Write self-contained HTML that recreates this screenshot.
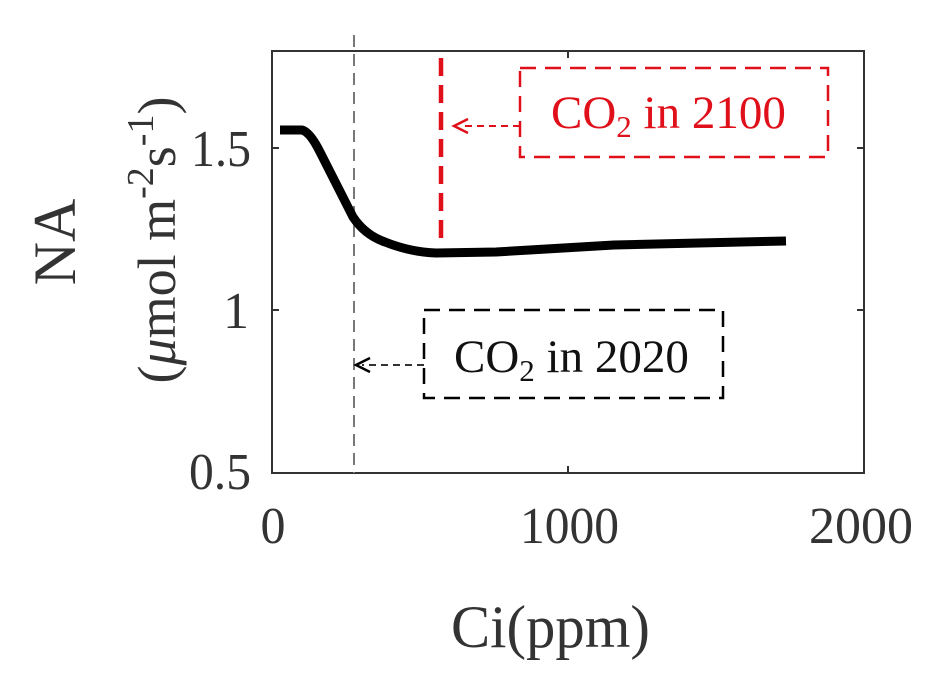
<!DOCTYPE html>
<html><head><style>body{margin:0;background:#fff}</style></head><body>
<svg width="943" height="684" viewBox="0 0 943 684" xmlns="http://www.w3.org/2000/svg" font-family="'Liberation Serif', serif">
<rect x="272" y="51" width="592" height="422" fill="none" stroke="#333" stroke-width="2"/>
<g stroke="#333" stroke-width="2">
<line x1="568" y1="473" x2="568" y2="466"/><line x1="568" y1="51" x2="568" y2="58"/>
<line x1="272" y1="148" x2="279" y2="148"/><line x1="864" y1="148" x2="857" y2="148"/>
<line x1="272" y1="310" x2="279" y2="310"/><line x1="864" y1="310" x2="857" y2="310"/>
</g>
<g font-size="52" fill="#333">
<text x="251" y="166" text-anchor="end" textLength="60" lengthAdjust="spacingAndGlyphs">1.5</text>
<text x="249" y="328" text-anchor="end">1</text>
<text x="251" y="489" text-anchor="end" textLength="62" lengthAdjust="spacingAndGlyphs">0.5</text>
<text x="273" y="543" text-anchor="middle" textLength="25" lengthAdjust="spacingAndGlyphs">0</text>
<text x="520" y="543" textLength="99" lengthAdjust="spacingAndGlyphs">1000</text>
<text x="809" y="543" textLength="104" lengthAdjust="spacingAndGlyphs">2000</text>
</g>
<text x="451" y="647" font-size="60" fill="#333" textLength="199" lengthAdjust="spacingAndGlyphs">Ci(ppm)</text>
<g transform="translate(75,242) rotate(-90)"><text x="0" y="0" font-size="60" text-anchor="middle" fill="#333">NA</text></g>
<g transform="translate(175,240) rotate(-90)"><text x="0" y="0" font-size="54" text-anchor="middle" fill="#333">(<tspan font-style="italic">μ</tspan>mol m<tspan dy="-22" font-size="38">-2</tspan><tspan dy="22">s</tspan><tspan dy="-22" font-size="38">-1</tspan><tspan dy="22">)</tspan></text></g>
<line x1="354" y1="35" x2="354" y2="473" stroke="#777" stroke-width="2" stroke-dasharray="12,7"/>
<line x1="441" y1="58" x2="441" y2="242" stroke="#e0101a" stroke-width="4.5" stroke-dasharray="18,9"/>
<path d="M280,130 L302,130 Q310,132 320,152 L353,217 Q365,235 385,242 Q410,252 436,253 L496,252 L614,245 L786,241" fill="none" stroke="#000" stroke-width="9" stroke-linejoin="round"/>
<rect x="520" y="68" width="308" height="89" fill="none" stroke="#e0101a" stroke-width="2.5" stroke-dasharray="16,9"/>
<text x="551" y="128" font-size="47" fill="#e0101a">CO<tspan font-size="31" dy="9">2</tspan><tspan dy="-9"> in 2100</tspan></text>
<path d="M520,126 L460,126" stroke="#e0101a" stroke-width="2" stroke-dasharray="7,5"/>
<path d="M468,119 L454,126 L468,133" fill="none" stroke="#e0101a" stroke-width="2.5"/>
<rect x="424" y="310" width="299" height="88" fill="none" stroke="#000" stroke-width="2.5" stroke-dasharray="16,9"/>
<text x="454" y="372" font-size="47" fill="#111">CO<tspan font-size="31" dy="9">2</tspan><tspan dy="-9"> in 2020</tspan></text>
<path d="M424,365 L362,365" stroke="#333" stroke-width="2" stroke-dasharray="7,5"/>
<path d="M370,358 L356,365 L370,372" fill="none" stroke="#000" stroke-width="2.5"/>
</svg>
</body></html>
